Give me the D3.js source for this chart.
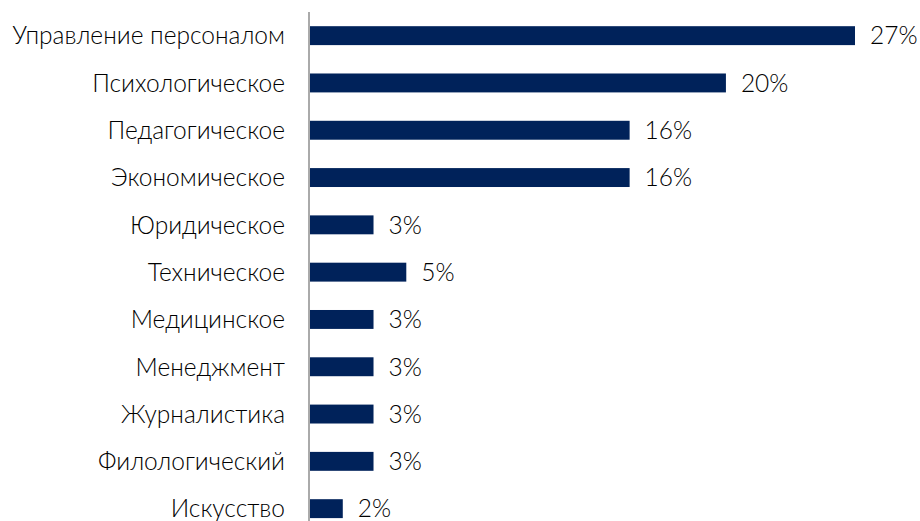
<!DOCTYPE html>
<html>
<head>
<meta charset="utf-8">
<script src="https://cdn.jsdelivr.net/npm/d3@7"></script>
<style>
  body { margin: 0; background: #fff; }
  svg text { font-family: Lato, "Noto Sans", sans-serif; font-weight: 300; fill: #000; }
</style>
</head>
<body>
<div id="chart"></div>
<script>
// categories and shares (%)
var categories = ["Управление персоналом", "Психологическое", "Педагогическое", "Экономическое",
                  "Юридическое", "Техническое", "Медицинское", "Менеджмент",
                  "Журналистика", "Филологический", "Искусство"];
var values = [26.6, 20.3, 15.6, 15.6, 3.1, 4.7, 3.1, 3.1, 3.1, 3.1, 1.6];

function init() {
    const width = 920, height = 521;
    const left = 310, right = 855;

    var svg = d3.select("#chart")
                .append("svg")
                .attr("width", width)
                .attr("height", height);

    const x = d3.scaleLinear()
                .domain([0, d3.max(values)])
                .range([left, right]);

    const y = d3.scaleBand()
                .domain(categories)
                .range([12, 12 + 11 * 47.3])
                .paddingInner(0.6)
                .paddingOuter(0.3);

    const data = categories.map((c, i) => ({ name: c, value: values[i] }));

    // bars
    svg.selectAll("rect.bar")
        .data(data)
        .join("rect")
        .attr("class", "bar")
        .attr("x", x(0))
        .attr("y", d => y(d.name))
        .attr("width", d => x(d.value) - x(0))
        .attr("height", y.bandwidth())
        .attr("fill", "#00225a");

    // axis line
    svg.append("line")
        .attr("x1", 309).attr("x2", 309)
        .attr("y1", 12).attr("y2", height)
        .attr("stroke", "#aaaaaa")
        .attr("stroke-width", 2);

    // category labels
    svg.selectAll("text.cat")
        .data(data)
        .join("text")
        .attr("class", "cat")
        .attr("x", 285)
        .attr("y", d => y(d.name) + y.bandwidth() / 2)
        .attr("dy", "0.36em")
        .attr("text-anchor", "end")
        .style("font-size", "24.5px")
        .text(d => d.name);

    // value labels
    svg.selectAll("text.val")
        .data(data)
        .join("text")
        .attr("class", "val")
        .attr("x", d => x(d.value) + 15)
        .attr("y", d => y(d.name) + y.bandwidth() / 2)
        .attr("dy", "0.36em")
        .style("font-size", "24.5px")
        .text(d => Math.round(d.value) + "%");
}

window.onload = init;
</script>
</body>
</html>
